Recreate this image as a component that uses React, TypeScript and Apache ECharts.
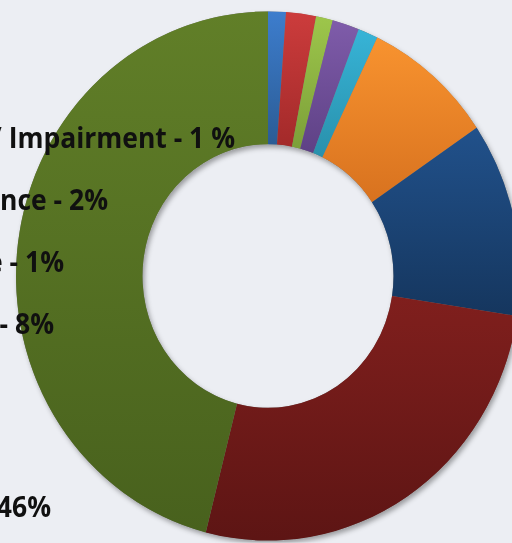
import React, { useEffect, useRef } from "react";
import * as echarts from "echarts";

const categories = ["Blue", "Red", "Light green", "Purple", "Cyan", "Orange", "Dark blue", "Dark red", "Green"];
const values = [1.14, 1.92, 1.08, 1.72, 1.28, 8.39, 11.89, 26.56, 46.03];
const topColors = ["#3d7dcd", "#cc3c3c", "#9dc64b", "#7f5caa", "#37b4d7", "#f8932f", "#21518b", "#801f1d", "#617f28"];
const bottomColors = ["#2b5c95", "#a32a2a", "#7c9f39", "#5e4185", "#2990ab", "#d8721f", "#15365e", "#5d1514", "#48611d"];
const labelTexts = ["/ Impairment - 1 %", "nce - 2%", "e - 1%", "- 8%", "46%"];

const S = 1.05;
const W = 512;
const H = 543 / S;

export default function App() {
  const ref = useRef<HTMLDivElement>(null);
  useEffect(() => {
    if (!ref.current) return;
    const chart = echarts.init(ref.current, undefined, { renderer: "svg" });
    const center = [268, 276 / S];
    const radius = [125.5, 252];
    const labelPos = [
      [235, 137 / S],
      [108, 199 / S],
      [64, 261 / S],
      [54, 323 / S],
      [51, 506 / S],
    ];
    chart.setOption({
      animation: false,
      backgroundColor: "#eceef3",
      series: [
        {
          type: "pie",
          silent: true,
          center,
          radius,
          startAngle: 90,
          label: { show: false },
          labelLine: { show: false },
          itemStyle: {
            color: "#7a7a7a",
            shadowBlur: 5,
            shadowOffsetX: 2,
            shadowOffsetY: 3,
            shadowColor: "rgba(0,0,0,0.35)",
          },
          data: [{ value: 1, name: "shadow" }],
        },
        {
          type: "pie",
          silent: true,
          center,
          radius,
          startAngle: 90,
          clockwise: true,
          label: { show: false },
          labelLine: { show: false },
          itemStyle: { borderWidth: 0 },
          data: categories.map((c, i) => ({
            name: c,
            value: values[i],
            itemStyle: {
              color: new echarts.graphic.LinearGradient(0, 0, 0, 1, [
                { offset: 0, color: topColors[i] },
                { offset: 1, color: bottomColors[i] },
              ]),
            },
          })),
        },
      ],
      graphic: labelTexts.map((t, i) => ({
        type: "text",
        z: 100,
        x: labelPos[i][0],
        y: labelPos[i][1],
        style: {
          text: t,
          align: "right",
          verticalAlign: "middle",
          fill: "#101010",
          fontFamily: "Open Sans",
          fontWeight: "bold",
          fontSize: 26.5,
        },
      })),
    });
    return () => chart.dispose();
  }, []);
  return (
    <div
      style={{
        position: "fixed",
        left: 0,
        top: 0,
        width: W,
        height: 543,
        overflow: "hidden",
        background: "#eceef3",
      }}
    >
      <div
        ref={ref}
        style={{
          width: W,
          height: H,
          transform: `scaleY(${S})`,
          transformOrigin: "0 0",
        }}
      />
    </div>
  );
}
